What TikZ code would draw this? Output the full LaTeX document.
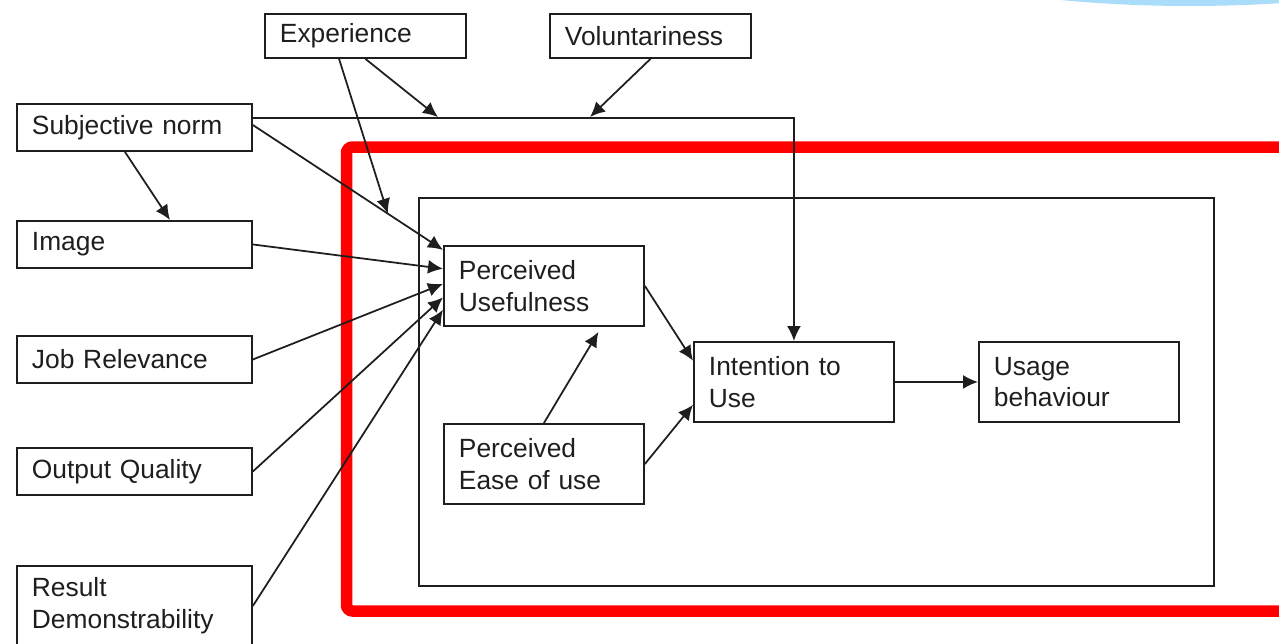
\documentclass[tikz,border=0pt]{standalone}
\usepackage{fontspec}
\setmainfont{Liberation Sans}
\usepackage{tikz}
\usepackage{xcolor}
\usetikzlibrary{calc,arrows.meta}
\definecolor{ink}{HTML}{1E1E1E}
\definecolor{frame}{HTML}{FF0000}
\definecolor{cloud}{HTML}{AADDFA}

\begin{document}
\begin{tikzpicture}[
    x=0.02cm, y=-0.02cm,
    line width=1pt,
    >={Latex[length=0.3cm,width=0.28cm]},
    every node/.style={font=\fontsize{15}{18}\selectfont, text=ink},
    box/.style={draw=ink, line width=1.1pt, anchor=north west, align=left,
        inner xsep=0.3cm, inner ysep=0pt},
    topbox/.style={box, text width=3.42cm, minimum height=0.88cm},
    sidebox/.style={box, text width=4.1cm, minimum height=0.94cm},
    corebox/.style={box, text width=3.4cm, minimum height=1.6cm},
    link/.style={->, draw=ink, line width=1pt}
]
\useasboundingbox (0,0) rectangle (1279,643);
%====================================================
% BACKGROUND
%====================================================
\fill[cloud] (1190,-62) ellipse [x radius=6.3cm, y radius=1.36cm];
\draw[frame, line width=0.23cm, rounded corners=0.12cm] (346.5,147) rectangle (1320,611);
\draw[ink, line width=1.1pt] (419,198) rectangle (1214,586);

%====================================================
% MODERATORS
%====================================================
\node[topbox] (exp) at (264,13) {Experience};
\node[topbox] (vol) at (549,13) {Voluntariness};

%====================================================
% DETERMINANTS
%====================================================
\node[sidebox] (sn)  at (16,103) {Subjective norm};
\node[sidebox] (img) at (16,220) {Image};
\node[sidebox] (job) at (16,335) {Job Relevance};
\node[sidebox] (out) at (16,447) {Output Quality};
\node[corebox, text width=4.1cm] (res) at (16,565) {Result\\Demonstrability};

%====================================================
% CORE MODEL
%====================================================
\node[corebox] (pu)   at (443,245) {Perceived\\Usefulness};
\node[corebox] (peou) at (443,423) {Perceived\\Ease of use};
\node[corebox] (itu)  at (693,341) {Intention to\\Use};
\node[corebox] (ub)   at (978,341) {Usage\\behaviour};

%====================================================
% CONNECTORS
%====================================================
\coordinate (snA) at ($(sn.north east)!0.3!(sn.south east)$);
\coordinate (snB) at ($(sn.north east)!0.45!(sn.south east)$);
\coordinate (puA) at ($(pu.north west)!0.06!(pu.south west)$);
\coordinate (mod) at ($(snB)!0.71!(puA)$);
\coordinate (expA) at (438,117);
\coordinate (volA) at (590,117);

\draw[link] (snA) -| (itu.north);
\draw[link] (exp.south) -- (expA);
\draw[link] (vol.south) -- (volA);
\draw[link] ($(exp.south west)!0.37!(exp.south east)$) -- (mod);
\draw[link] (snB) -- (puA);
\draw[link] ($(sn.south west)!0.46!(sn.south east)$) -- ($(img.north west)!0.65!(img.north east)$);

\foreach \src/\frac in {img/0.29, job/0.475, out/0.64, res/0.79}
{
    \draw[link] (\src.east) -- ($(pu.north west)!\frac!(pu.south west)$);
}

\draw[link] (peou.north) -- ($(pu.south west)!0.77!(pu.south east)+(0,5)$);
\draw[link] (pu.east) -- ($(itu.north west)!0.24!(itu.south west)$);
\draw[link] (peou.east) -- ($(itu.north west)!0.78!(itu.south west)$);
\draw[link] (itu.east) -- (ub.west);
\end{tikzpicture}
\end{document}
